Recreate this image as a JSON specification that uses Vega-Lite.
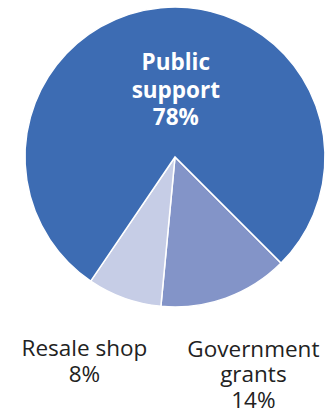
{
  "$schema": "https://vega.github.io/schema/vega-lite/v6.json",
  "autosize": {"type": "none"},
  "padding": {"left": 18, "top": 0, "right": 0, "bottom": 98},
  "width": 314,
  "height": 314,
  "background": "white",
  "config": {"view": {"stroke": null}},
  "data": {"values": [
    {"Source": "Government grants", "Share": 14, "Order": 1, "Label": "Government\ngrants\n14%"},
    {"Source": "Resale shop", "Share": 8, "Order": 2, "Label": "Resale shop\n8%"},
    {"Source": "Public support", "Share": 78, "Order": 3, "Label": "Public\nsupport\n78%"}
  ]},
  "encoding": {
    "theta": {"field": "Share", "type": "quantitative", "stack": true, "scale": {"type": "linear", "range": [2.35619, 8.63938]}},
    "order": {"field": "Order", "type": "quantitative"}
  },
  "layer": [
    {
      "mark": {"type": "arc", "outerRadius": 150, "stroke": "white", "strokeWidth": 1.5},
      "encoding": {
        "color": {"field": "Source", "type": "nominal", "legend": null,
          "scale": {"domain": ["Government grants", "Resale shop", "Public support"], "range": ["#8394C8", "#C6CDE6", "#3D6CB3"]}}
      }
    },
    {
      "mark": {"type": "text", "radius": 94, "thetaOffset": 0.103, "lineBreak": "\n", "font": "Open Sans", "fontWeight": "bold", "fontSize": 22.5, "lineHeight": 27.5, "fill": "white", "align": "center", "baseline": "middle"},
      "encoding": {
        "text": {"condition": {"test": "datum.Source === 'Public support'", "field": "Label"}, "value": ""}
      }
    },
    {
      "mark": {"type": "text", "radius": 212.3, "thetaOffset": 0.095, "lineBreak": "\n", "font": "Open Sans", "fontSize": 22.5, "lineHeight": 25.8, "fill": "#222222", "align": "center", "baseline": "middle"},
      "encoding": {
        "text": {"condition": {"test": "datum.Source === 'Resale shop'", "field": "Label"}, "value": ""}
      }
    },
    {
      "mark": {"type": "text", "radius": 207.9, "thetaOffset": -0.041, "lineBreak": "\n", "font": "Open Sans", "fontSize": 22.5, "lineHeight": 25.8, "fill": "#222222", "align": "center", "baseline": "middle"},
      "encoding": {
        "text": {"condition": {"test": "datum.Source === 'Government grants'", "field": "Label"}, "value": ""}
      }
    }
  ]
}
